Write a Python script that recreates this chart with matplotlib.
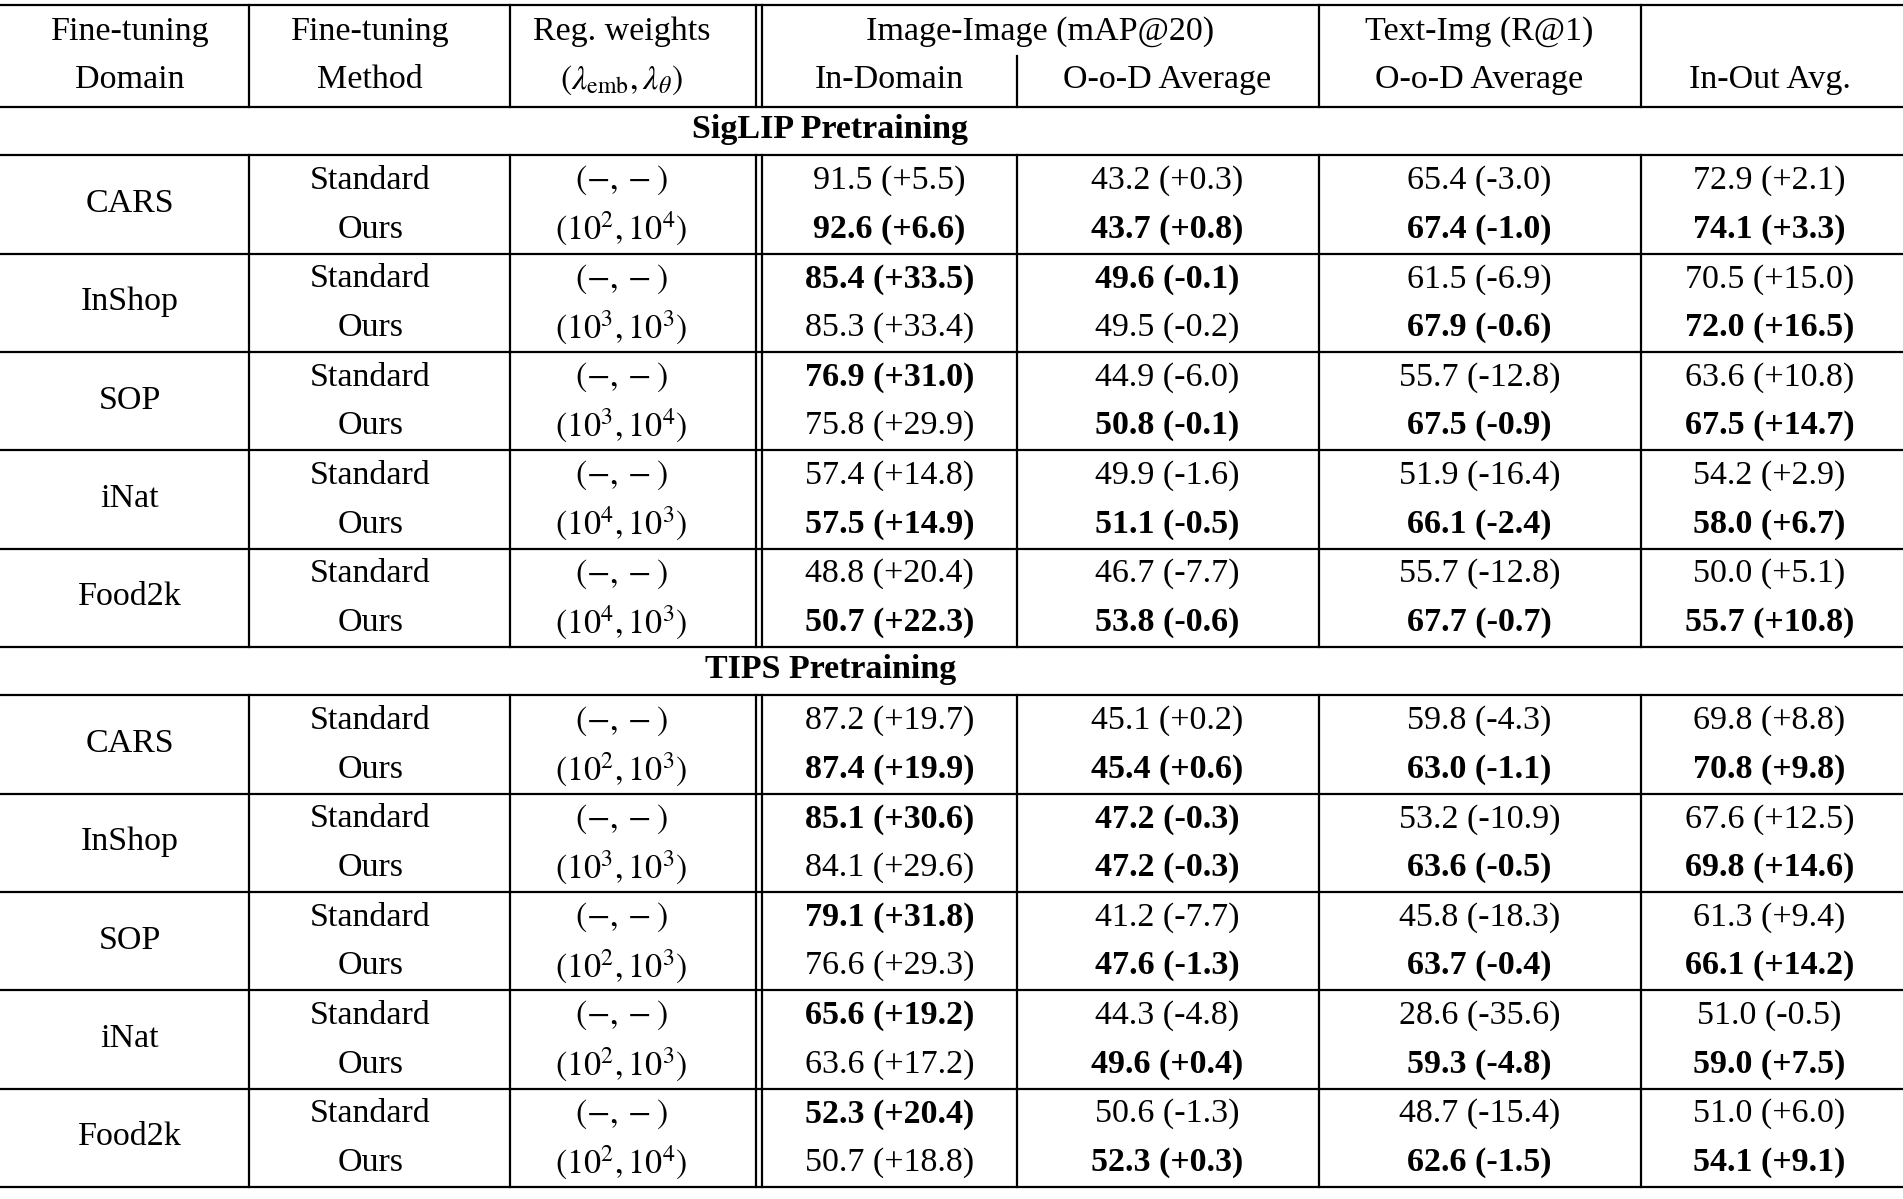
import matplotlib
matplotlib.use("Agg")
import matplotlib.pyplot as plt

plt.rcParams["font.family"] = "Liberation Serif"
plt.rcParams["mathtext.fontset"] = "stix"

domains = ["CARS", "InShop", "SOP", "iNat", "Food2k"]
methods = ["Standard", "Ours"]
sections = ["SigLIP Pretraining", "TIPS Pretraining"]
reg_siglip = [r"$(10^2,10^4)$", r"$(10^3,10^3)$", r"$(10^3,10^4)$", r"$(10^4,10^3)$", r"$(10^4,10^3)$"]
reg_tips = [r"$(10^2,10^3)$", r"$(10^3,10^3)$", r"$(10^2,10^3)$", r"$(10^2,10^3)$", r"$(10^2,10^4)$"]

in_domain_siglip = ["91.5 (+5.5)", "92.6 (+6.6)", "85.4 (+33.5)", "85.3 (+33.4)", "76.9 (+31.0)", "75.8 (+29.9)",
                    "57.4 (+14.8)", "57.5 (+14.9)", "48.8 (+20.4)", "50.7 (+22.3)"]
ood_img_siglip = ["43.2 (+0.3)", "43.7 (+0.8)", "49.6 (-0.1)", "49.5 (-0.2)", "44.9 (-6.0)", "50.8 (-0.1)",
                  "49.9 (-1.6)", "51.1 (-0.5)", "46.7 (-7.7)", "53.8 (-0.6)"]
ood_txt_siglip = ["65.4 (-3.0)", "67.4 (-1.0)", "61.5 (-6.9)", "67.9 (-0.6)", "55.7 (-12.8)", "67.5 (-0.9)",
                  "51.9 (-16.4)", "66.1 (-2.4)", "55.7 (-12.8)", "67.7 (-0.7)"]
avg_siglip = ["72.9 (+2.1)", "74.1 (+3.3)", "70.5 (+15.0)", "72.0 (+16.5)", "63.6 (+10.8)", "67.5 (+14.7)",
              "54.2 (+2.9)", "58.0 (+6.7)", "50.0 (+5.1)", "55.7 (+10.8)"]
bold_siglip = [[0,0,0,0],[1,1,1,1],[1,1,0,0],[0,0,1,1],[1,0,0,0],[0,1,1,1],[0,0,0,0],[1,1,1,1],[0,0,0,0],[1,1,1,1]]

in_domain_tips = ["87.2 (+19.7)", "87.4 (+19.9)", "85.1 (+30.6)", "84.1 (+29.6)", "79.1 (+31.8)", "76.6 (+29.3)",
                  "65.6 (+19.2)", "63.6 (+17.2)", "52.3 (+20.4)", "50.7 (+18.8)"]
ood_img_tips = ["45.1 (+0.2)", "45.4 (+0.6)", "47.2 (-0.3)", "47.2 (-0.3)", "41.2 (-7.7)", "47.6 (-1.3)",
                "44.3 (-4.8)", "49.6 (+0.4)", "50.6 (-1.3)", "52.3 (+0.3)"]
ood_txt_tips = ["59.8 (-4.3)", "63.0 (-1.1)", "53.2 (-10.9)", "63.6 (-0.5)", "45.8 (-18.3)", "63.7 (-0.4)",
                "28.6 (-35.6)", "59.3 (-4.8)", "48.7 (-15.4)", "62.6 (-1.5)"]
avg_tips = ["69.8 (+8.8)", "70.8 (+9.8)", "67.6 (+12.5)", "69.8 (+14.6)", "61.3 (+9.4)", "66.1 (+14.2)",
            "51.0 (-0.5)", "59.0 (+7.5)", "51.0 (+6.0)", "54.1 (+9.1)"]
bold_tips = [[0,0,0,0],[1,1,1,1],[1,1,0,0],[0,1,1,1],[1,0,0,0],[0,1,1,1],[1,0,0,0],[0,1,1,1],[1,0,0,0],[0,1,1,1]]

W, H = 1568, 988
fig = plt.figure(figsize=(19.03, 11.99), dpi=100)
ax = fig.add_axes([0, 0, 1, 1])
ax.set_xlim(0, W); ax.set_ylim(H, 0); ax.axis("off")
FS = 24.5
lw = 1.6
cx = [107, 305, 512, 733, 962, 1219, 1458]

def hl(y, w=lw):
    ax.plot([0, W], [y, y], color="black", lw=w)

def vl(x, y0, y1):
    ax.plot([x, x], [y0, y1], color="black", lw=lw)

def t(x, y, s, bold=False):
    ax.text(x, y, s, ha="center", va="center", fontsize=FS, fontweight="bold" if bold else "normal")

# header
hl(4)
t(cx[0], 26, "Fine-tuning"); t(cx[0], 66, "Domain")
t(cx[1], 26, "Fine-tuning"); t(cx[1], 66, "Method")
t(cx[2], 26, "Reg. weights"); t(cx[2], 66, r"$(\lambda_{\mathrm{emb}},\lambda_{\theta})$")
t(857, 26, "Image-Image (mAP@20)")
t(cx[3], 66, "In-Domain"); t(cx[4], 66, "O-o-D Average")
t(cx[5], 26, "Text-Img (R@1)"); t(cx[5], 66, "O-o-D Average")
t(cx[6], 66, "In-Out Avg.")
for x in [205, 420, 623, 628, 1087, 1352]:
    vl(x, 4, 88)
vl(838, 46, 88)
hl(88)

def section(y0, title, regs, cols, bolds):
    t(W / 2 - 100, y0 + 19, title, bold=True)
    top = y0 + 40
    hl(top)
    for g in range(5):
        gy = top + g * 81
        t(cx[0], gy + 40, domains[g])
        for r in range(2):
            i = 2 * g + r
            y = gy + 21 + r * 40
            t(cx[1], y, methods[r])
            t(cx[2], y, r"$(-,-)$" if r == 0 else regs[g])
            for c in range(4):
                t(cx[3 + c], y, cols[c][i], bold=bolds[i][c])
        hl(gy + 81)
        for x in [205, 420, 623, 628, 838, 1087, 1352]:
            vl(x, gy, gy + 81)
    return top + 5 * 81

end = section(88, sections[0], reg_siglip,
              [in_domain_siglip, ood_img_siglip, ood_txt_siglip, avg_siglip], bold_siglip)
end2 = section(end, sections[1], reg_tips,
               [in_domain_tips, ood_img_tips, ood_txt_tips, avg_tips], bold_tips)

fig.savefig("out.png", dpi=100)
